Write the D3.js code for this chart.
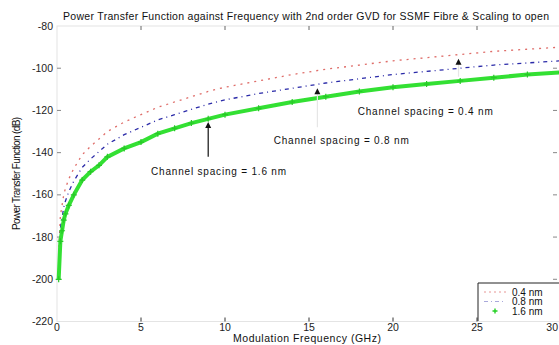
<!DOCTYPE html>
<html>
<head>
<meta charset="utf-8">
<script src="https://cdn.jsdelivr.net/npm/d3@7"></script>
<style>
  body { margin: 0; background: #fff; }
  svg { display: block; font-family: "Liberation Sans", Arial, sans-serif; }
</style>
</head>
<body>
<div id="chart"></div>
<script>
// frequencies (GHz) the curves were read at
const freq = [0.1, 0.2, 0.3, 0.4, 0.5, 0.7, 1.0, 1.5, 2.0, 2.5, 3.0, 4.0, 5.0, 6.0, 7.0, 8.0, 9.0, 10, 12, 14, 16, 18, 20, 22, 24, 26, 28, 30]
// power transfer function (dB), one list per channel spacing
const h04 = [-188, -170, -165, -160, -157, -152.5, -147.5, -141, -137, -133.5, -130, -125.5, -122, -118.5, -116, -113.5, -111, -109, -106, -103, -100.5, -98.5, -96.5, -95, -93.5, -92, -91, -90]
const h08 = [-194, -176, -171, -166, -163, -158.5, -153.5, -147, -143, -139.5, -136, -131.5, -128, -124.5, -122, -119.5, -117, -115, -112, -109.5, -107, -105, -103, -101.5, -100, -98.5, -97.5, -96.5]
const h16 = [-200, -182, -177, -172, -169, -165, -160, -153, -149, -146, -142, -138, -135, -131, -128.5, -126, -124, -122, -119, -116, -113.5, -111, -109, -107.5, -106, -104.5, -103, -102]
const seriesNames = ['0.4 nm', '0.8 nm', '1.6 nm']

const xTicks = [0, 5, 10, 15, 20, 25, 30]
const yTicks = [-220, -200, -180, -160, -140, -120, -100, -80]

// annotations: label, arrow frequency, arrow tip/tail (dB), label anchor (GHz, dB)
const annoLabels = ['Channel spacing = 0.4 nm', 'Channel spacing = 0.8 nm', 'Channel spacing = 1.6 nm']
const annoFreq = [23.9, 15.5, 9.0]
const annoTip = [-95.5, -109.5, -125.5]
const annoTail = [-104, -128, -142]
const annoTextF = [17.9, 12.9, 5.6]
const annoTextV = [-122, -136, -150.5]

const W = 559, H = 345
const x = d3.scaleLinear().domain([0, 30]).range([57, 561])
const y = d3.scaleLinear().domain([-220, -80]).range([321.5, 26])

const svg = d3.select('#chart').append('svg')
    .attr('width', W)
    .attr('height', H)

// axes box (faint)
svg.append('rect')
    .attr('x', x(0)).attr('y', y(-80))
    .attr('width', x(30) - x(0)).attr('height', y(-220) - y(-80))
    .attr('fill', 'none').attr('stroke', '#e4e4e4')

// inner ticks, MATLAB style
const tickLen = 4
svg.append('g').selectAll('line')
    .data(xTicks.slice(1, -1))
    .join('line')
    .attr('x1', d => x(d)).attr('x2', d => x(d))
    .attr('y1', y(-220)).attr('y2', y(-220) - tickLen)
    .attr('stroke', '#333')
svg.append('g').selectAll('line')
    .data(xTicks.slice(1, -1))
    .join('line')
    .attr('x1', d => x(d)).attr('x2', d => x(d))
    .attr('y1', y(-80)).attr('y2', y(-80) + tickLen)
    .attr('stroke', '#666')
svg.append('g').selectAll('line')
    .data(yTicks.slice(1, -1))
    .join('line')
    .attr('x1', x(0)).attr('x2', x(0) + tickLen)
    .attr('y1', d => y(d)).attr('y2', d => y(d))
    .attr('stroke', '#888')
svg.append('g').selectAll('line')
    .data(yTicks.slice(1, -1))
    .join('line')
    .attr('x1', x(30) - 4).attr('x2', x(30) - 4 - tickLen)
    .attr('y1', d => y(d)).attr('y2', d => y(d))
    .attr('stroke', '#888')

// tick labels
svg.append('g').selectAll('text')
    .data(xTicks)
    .join('text')
    .attr('x', d => d === 30 ? 558 : x(d))
    .attr('y', 331)
    .attr('text-anchor', d => d === 30 ? 'end' : 'middle')
    .attr('font-size', 10.5)
    .attr('fill', '#222')
    .text(d => d)
svg.append('g').selectAll('text')
    .data(yTicks)
    .join('text')
    .attr('x', 53).attr('y', d => y(d) + 3.5)
    .attr('text-anchor', 'end')
    .attr('font-size', 10.5)
    .attr('fill', '#222')
    .text(d => d)

// titles
svg.append('text')
    .attr('x', 63).attr('y', 20)
    .attr('font-size', 10.5)
    .attr('textLength', 486)
    .attr('fill', '#111')
    .text('Power Transfer Function against Frequency with 2nd order GVD for SSMF Fibre & Scaling to open')
svg.append('text')
    .attr('x', 233).attr('y', 342)
    .attr('font-size', 10.5)
    .attr('textLength', 148)
    .attr('fill', '#111')
    .text('Modulation Frequency (GHz)')
svg.append('text')
    .attr('transform', 'translate(20,230) rotate(-90)')
    .attr('font-size', 10)
    .attr('textLength', 113)
    .attr('fill', '#111')
    .text('Power Transfer Function (dB)')

// curves
const line = vals => d3.line()
    .x((d, i) => x(freq[i]))
    .y(d => y(d))(vals)

svg.append('path')
    .attr('d', line(h04))
    .attr('fill', 'none')
    .attr('stroke', '#d9534f')
    .attr('stroke-width', 1.3)
    .attr('stroke-dasharray', '2,5')
    .attr('opacity', 0.85)

svg.append('path')
    .attr('d', line(h08))
    .attr('fill', 'none')
    .attr('stroke', '#2a2aa8')
    .attr('stroke-width', 1.3)
    .attr('stroke-dasharray', '4,4,1,4')

svg.append('path')
    .attr('d', line(h16))
    .attr('fill', 'none')
    .attr('stroke', '#33e033')
    .attr('stroke-width', 4)

const cross = (cx, cy, r) => `M${cx - r},${cy}H${cx + r}M${cx},${cy - r}V${cy + r}`
svg.append('g').selectAll('path')
    .data(h16)
    .join('path')
    .attr('d', (d, i) => cross(x(freq[i]), y(d), 3))
    .attr('stroke', '#28c828')
    .attr('stroke-width', 1.2)

// annotations
const ann = svg.append('g')
annoLabels.forEach((t, i) => {
    const ax = x(annoFreq[i])
    const shaft = i === 2 ? '#111' : '#e6e6e6'
    ann.append('line')
        .attr('x1', ax).attr('x2', ax)
        .attr('y1', y(annoTail[i])).attr('y2', y(annoTip[i]) + 4)
        .attr('stroke', shaft).attr('stroke-width', 1.2)
    const ty = y(annoTip[i])
    ann.append('path')
        .attr('d', `M${ax},${ty}L${ax - 3},${ty + 6}L${ax + 3},${ty + 6}Z`)
        .attr('fill', '#111')
    ann.append('text')
        .attr('x', x(annoTextF[i])).attr('y', y(annoTextV[i]))
        .attr('font-size', 10)
        .attr('textLength', 135)
        .attr('fill', '#111')
        .text(t)
})

// legend
const lg = svg.append('g')
lg.append('rect')
    .attr('x', 479).attr('y', 284).attr('width', 80).attr('height', 37)
    .attr('fill', '#fff')
lg.append('path')
    .attr('d', 'M478,321V283H560')
    .attr('fill', 'none').attr('stroke', '#222')
const legStyles = [
    { stroke: '#d9534f', dash: '2,3', op: 0.6 },
    { stroke: '#2a2aa8', dash: '4,3,1,3', op: 0.4 },
    { stroke: '#2ee02e', dash: null, op: 0 }
]
seriesNames.forEach((n, i) => {
    const ly = 292 + i * 9.5
    lg.append('line')
        .attr('x1', 484).attr('x2', 506)
        .attr('y1', ly).attr('y2', ly)
        .attr('stroke', legStyles[i].stroke)
        .attr('stroke-dasharray', legStyles[i].dash)
        .attr('opacity', legStyles[i].op)
    if (i === 2) {
        lg.append('path').attr('d', cross(495, ly, 2.5))
            .attr('stroke', '#22d022').attr('stroke-width', 1.4)
    }
    lg.append('text')
        .attr('x', 512).attr('y', ly + 3.5)
        .attr('font-size', 10)
        .attr('fill', '#111')
        .text(n)
})
</script>
</body>
</html>
